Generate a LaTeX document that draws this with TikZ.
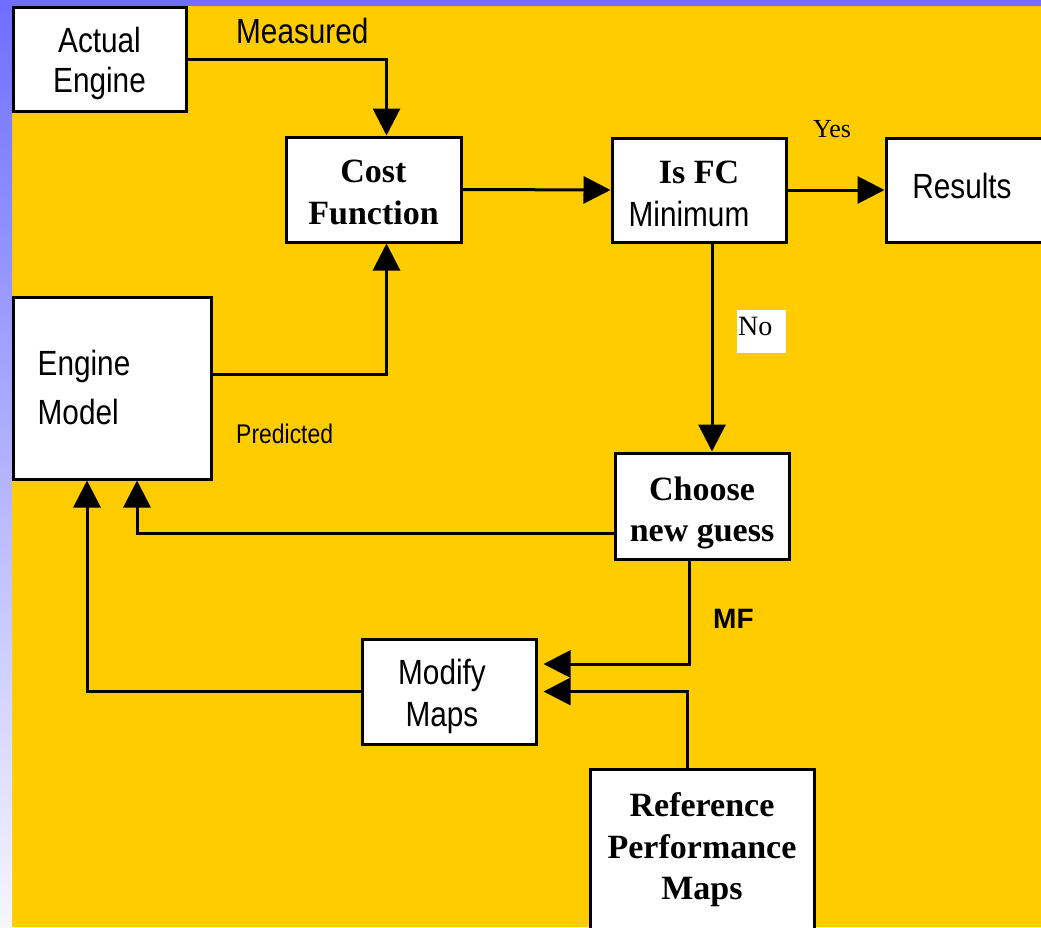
\documentclass[tikz,border=0pt]{standalone}
\usepackage{fontspec}
\setmainfont{Liberation Serif}
\newfontfamily\nsans{Liberation Sans}[FakeStretch=0.85]
\newfontfamily\bsans{Liberation Sans}
\usetikzlibrary{arrows.meta}
\definecolor{gold}{RGB}{255,204,0}
\definecolor{bandblue}{RGB}{110,110,255}
\definecolor{bandpale}{RGB}{246,246,255}
\newcommand\boxtext[3]{\raisebox{#1}[\height][\depth]{\begin{tabular}{#2}#3\end{tabular}}}
\tikzset{
  blk/.style={draw=black, fill=white, line width=3pt, inner sep=0pt, rectangle},
  sanstext/.style={font=\nsans\fontsize{35}{40}\selectfont},
  conn/.style={line width=3pt, -{Triangle[length=27pt,width=27pt]}},
  lbl/.style={inner sep=0pt, anchor=base west},
}
\begin{document}
\begin{tikzpicture}[x=1pt,y=-1pt]
\useasboundingbox (0,0) rectangle (1041,927);
\clip (0,0) rectangle (1041,927);
\fill[gold] (0,0) rectangle (1041,927);
\shade[top color=bandblue, bottom color=bandpale] (0,0) rectangle (12,927);
\fill[bandblue] (0,0) rectangle (1041,6);

% boxes
\node[blk, sanstext, minimum width=173pt, minimum height=104pt] (ae) at (99.5,59)
  {\boxtext{-5pt}{@{}c@{}}{Actual\\Engine}};
\node[blk, font=\bfseries\fontsize{34}{42}\selectfont, minimum width=175pt, minimum height=105pt] (cf) at (373.5,189.5)
  {\boxtext{-6pt}{@{}c@{}}{Cost\\Function}};
\node[blk, font=\fontsize{34}{43}\selectfont, minimum width=174pt, minimum height=104pt] (fc) at (699,190)
  {\boxtext{-6pt}{@{}c@{}}{\bfseries Is FC\\\nsans\fontsize{35}{40}\selectfont Minimum\hspace*{20pt}}};
\node[blk, sanstext, minimum width=164pt, minimum height=104pt] (res) at (968,190)
  {\boxtext{0pt}{@{}l@{\hspace{12pt}}}{Results}};
\node[blk, font=\nsans\fontsize{35}{49}\selectfont, minimum width=198pt, minimum height=182pt] (em) at (112,388)
  {\boxtext{-2pt}{@{}l@{\hspace{56pt}}}{Engine\\Model}};
\node[blk, font=\bfseries\fontsize{34}{41}\selectfont, minimum width=174pt, minimum height=106pt] (cg) at (702,506)
  {\boxtext{-7pt}{@{}c@{}}{Choose\\new guess}};
\node[blk, font=\nsans\fontsize{35}{42}\selectfont, minimum width=174pt, minimum height=105pt] (mm) at (449,691.5)
  {\boxtext{-6pt}{@{}c@{\hspace{14pt}}}{Modify\\Maps}};
\node[blk, font=\bfseries\fontsize{34}{41.5}\selectfont, minimum width=224pt, minimum height=162pt] (rp) at (702,850)
  {\boxtext{0pt}{@{}c@{}}{Reference\\Performance\\Maps}};

% labels
\node[lbl, font=\nsans\fontsize{35}{40}\selectfont] (lmeas) at (236,43) {Measured};
\node[lbl, font=\nsans\fontsize{27}{32}\selectfont] (lpred) at (236,443) {Predicted};
\node[lbl, font=\fontsize{26}{30}\selectfont] (lyes) at (813,137) {Yes};
\node[anchor=north west, fill=white, inner sep=0pt, minimum width=49pt, minimum height=43pt, font=\fontsize{28}{32}\selectfont] (lno) at (737,310)
  {\raisebox{5pt}[\height][\depth]{No}\hspace*{13pt}};
\node[lbl, font=\bsans\bfseries\fontsize{28}{32}\selectfont] (lmf) at (713,628) {MF};

% connectors
\draw[conn] (ae.east) -| ([xshift=13pt]cf.north);
\draw[conn] ([yshift=14pt]em.east) -| ([xshift=13pt]cf.south);
\draw[conn] (cf.east) -- (fc.west);
\draw[conn] (fc.east) -- (res.west);
\draw[conn] ([xshift=13pt]fc.south) -- ([xshift=13pt]fc.south |- cg.north);
\draw[conn] ([yshift=-27pt]cg.west) -| ([xshift=25pt]em.south);
\draw[conn] ([xshift=-13pt]cg.south) |- ([xshift=6pt,yshift=27.5pt]mm.east);
\draw[conn] ([xshift=-15pt]rp.north) |- ([xshift=6pt]mm.east);
\draw[conn] (mm.west) -| ([xshift=-25pt]em.south);
\end{tikzpicture}
\end{document}
